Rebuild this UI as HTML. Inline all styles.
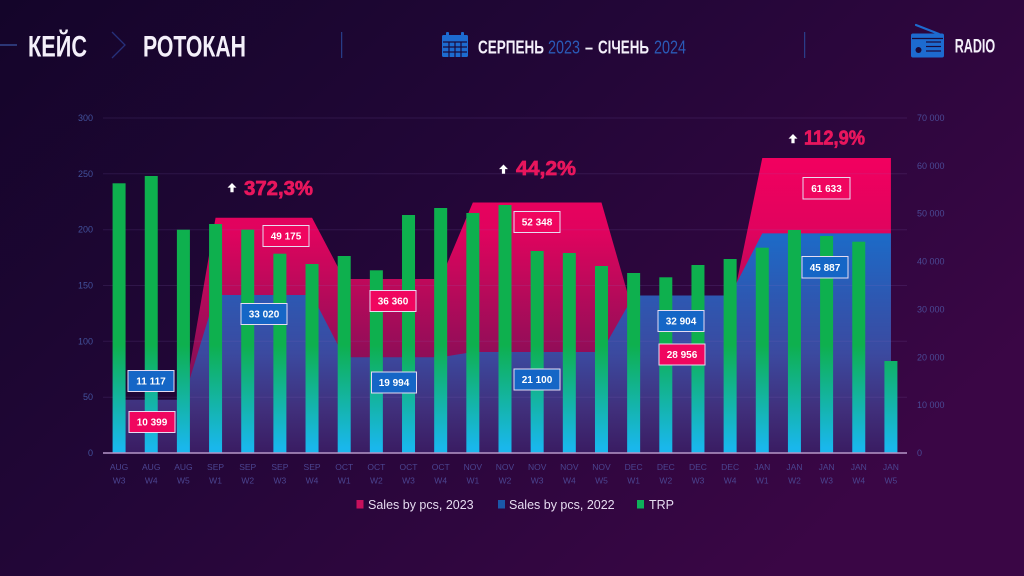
<!DOCTYPE html>
<html><head><meta charset="utf-8"><style>
html,body{margin:0;padding:0;width:1024px;height:576px;overflow:hidden;background:#1c0634;}
svg{display:block;}
</style></head><body>
<svg width="1024" height="576" viewBox="0 0 1024 576" xmlns="http://www.w3.org/2000/svg" font-family="'Liberation Sans', 'Noto Sans CJK SC', sans-serif">
<defs>
  <linearGradient id="bg" x1="0" y1="0" x2="1" y2="0.6">
    <stop offset="0" stop-color="#14052a"/>
    <stop offset="0.45" stop-color="#220637"/>
    <stop offset="1" stop-color="#3a0645"/>
  </linearGradient>
  <linearGradient id="pinkG" gradientUnits="userSpaceOnUse" x1="0" y1="158" x2="0" y2="453">
    <stop offset="0" stop-color="#f2005f"/>
    <stop offset="0.25" stop-color="#e0035e"/>
    <stop offset="0.45" stop-color="#b80a5a"/>
    <stop offset="0.7" stop-color="#8a0e58"/>
    <stop offset="1" stop-color="#4a1060"/>
  </linearGradient>
  <linearGradient id="blueG" gradientUnits="userSpaceOnUse" x1="0" y1="230" x2="0" y2="453">
    <stop offset="0" stop-color="#1b6cc9"/>
    <stop offset="0.3" stop-color="#2d58b2"/>
    <stop offset="0.55" stop-color="#3b4aa0"/>
    <stop offset="0.8" stop-color="#40307c"/>
    <stop offset="1" stop-color="#3a1c62"/>
  </linearGradient>
  <linearGradient id="barG" gradientUnits="userSpaceOnUse" x1="0" y1="345" x2="0" y2="448">
    <stop offset="0" stop-color="#0eb04e"/>
    <stop offset="1" stop-color="#19b7ec"/>
  </linearGradient>
</defs>

<rect x="0" y="0" width="1024" height="576" fill="url(#bg)"/>

<!-- Header -->
<line x1="0" y1="45" x2="17" y2="45" stroke="#34488f" stroke-width="1.5"/>
<text x="28" y="56.7" font-size="30" font-weight="bold" fill="#f4f0fa" textLength="59" lengthAdjust="spacingAndGlyphs">КЕЙС</text>
<polyline points="112,32 125,45 112,58" fill="none" stroke="#26307a" stroke-width="1.3"/>
<text x="143" y="56.7" font-size="30" font-weight="bold" fill="#f4f0fa" textLength="103" lengthAdjust="spacingAndGlyphs">РОТОКАН</text>
<line x1="341.7" y1="32" x2="341.7" y2="58" stroke="#2a4a9c" stroke-width="1"/>

<!-- calendar icon -->
<g fill="#1d6bd0">
  <rect x="442" y="35" width="26" height="22" rx="1.5"/>
  <rect x="446" y="32" width="3" height="5" rx="1"/>
  <rect x="461" y="32" width="3" height="5" rx="1"/>
</g>
<g stroke="#1b0a3a" stroke-width="1.2">
  <line x1="443" y1="42" x2="467" y2="42"/>
  <line x1="443" y1="47" x2="467" y2="47"/>
  <line x1="443" y1="52" x2="467" y2="52"/>
  <line x1="449" y1="42" x2="449" y2="57"/>
  <line x1="455" y1="42" x2="455" y2="57"/>
  <line x1="461" y1="42" x2="461" y2="57"/>
</g>
<text x="478" y="53.3" font-size="18.5" font-weight="bold" fill="#f4f0fa" textLength="66" lengthAdjust="spacingAndGlyphs">СЕРПЕНЬ</text>
<text x="548" y="53.3" font-size="18.5" fill="#2a5ab6" textLength="32" lengthAdjust="spacingAndGlyphs">2023</text>
<text x="585" y="53.3" font-size="18.5" font-weight="bold" fill="#f4f0fa" textLength="8" lengthAdjust="spacingAndGlyphs">–</text>
<text x="598" y="53.3" font-size="18.5" font-weight="bold" fill="#f4f0fa" textLength="51" lengthAdjust="spacingAndGlyphs">СІЧЕНЬ</text>
<text x="654" y="53.3" font-size="18.5" fill="#2a5ab6" textLength="32" lengthAdjust="spacingAndGlyphs">2024</text>
<line x1="804.7" y1="32" x2="804.7" y2="58" stroke="#2a4a9c" stroke-width="1"/>

<!-- radio icon -->
<line x1="916" y1="25" x2="939" y2="34" stroke="#1d6bd0" stroke-width="2.2" stroke-linecap="round"/>
<rect x="911" y="33.5" width="33" height="24" rx="2" fill="#1d6bd0"/>
<circle cx="918.5" cy="50" r="3" fill="#1b0a3a"/>
<g stroke="#1b0a3a" stroke-width="1.2">
  <line x1="926" y1="42" x2="941" y2="42"/>
  <line x1="926" y1="46.5" x2="941" y2="46.5"/>
  <line x1="926" y1="51" x2="941" y2="51"/>
  <line x1="912" y1="38.5" x2="943" y2="38.5"/>
</g>
<text x="954.7" y="52.3" font-size="19.5" font-weight="bold" fill="#f4f0fa" textLength="40.5" lengthAdjust="spacingAndGlyphs">RADIO</text>

<!-- Areas -->
<path d="M119.08,453 L119.08,403.2 L183.4,403.2 L215.56,217.7 L312.04,217.7 L344.2,279 L440.68,279 L472.84,202.5 L601.48,202.5 L633.64,314.4 L730.12,314.4 L762.28,158 L890.92,158 L890.92,453 Z" fill="url(#pinkG)"/>
<path d="M119.08,453 L119.08,399.8 L183.4,399.8 L215.56,295 L312.04,295 L344.2,357.3 L440.68,357.3 L472.84,352 L601.48,352 L633.64,295.5 L730.12,295.5 L762.28,233.4 L890.92,233.4 L890.92,453 Z" fill="url(#blueG)"/>

<!-- gridlines -->
<g stroke="#8a6ac0" stroke-opacity="0.16" stroke-width="1">
  <line x1="103" y1="118" x2="907" y2="118"/>
  <line x1="103" y1="173.8" x2="907" y2="173.8"/>
  <line x1="103" y1="229.7" x2="907" y2="229.7"/>
  <line x1="103" y1="285.5" x2="907" y2="285.5"/>
  <line x1="103" y1="341.3" x2="907" y2="341.3"/>
  <line x1="103" y1="397.2" x2="907" y2="397.2"/>
</g>

<!-- bars -->
<g fill="url(#barG)">
  <rect x="112.58" y="183.3" width="13" height="269.7"/>
  <rect x="144.74" y="176" width="13" height="277"/>
  <rect x="176.9" y="229.7" width="13" height="223.3"/>
  <rect x="209.06" y="224" width="13" height="229"/>
  <rect x="241.22" y="229.7" width="13" height="223.3"/>
  <rect x="273.38" y="253.7" width="13" height="199.3"/>
  <rect x="305.54" y="264" width="13" height="189"/>
  <rect x="337.7" y="256" width="13" height="197"/>
  <rect x="369.86" y="270.3" width="13" height="182.7"/>
  <rect x="402.02" y="215" width="13" height="238"/>
  <rect x="434.18" y="208" width="13" height="245"/>
  <rect x="466.34" y="213" width="13" height="240"/>
  <rect x="498.5" y="205" width="13" height="248"/>
  <rect x="530.66" y="251" width="13" height="202"/>
  <rect x="562.82" y="253" width="13" height="200"/>
  <rect x="594.98" y="266" width="13" height="187"/>
  <rect x="627.14" y="273" width="13" height="180"/>
  <rect x="659.3" y="277.3" width="13" height="175.7"/>
  <rect x="691.46" y="265" width="13" height="188"/>
  <rect x="723.62" y="259" width="13" height="194"/>
  <rect x="755.78" y="247.7" width="13" height="205.3"/>
  <rect x="787.94" y="230" width="13" height="223"/>
  <rect x="820.1" y="236" width="13" height="217"/>
  <rect x="852.26" y="241.7" width="13" height="211.3"/>
  <rect x="884.42" y="361" width="13" height="92"/>
</g>

<!-- axis line -->
<line x1="103" y1="453" x2="907" y2="453" stroke="#b596c8" stroke-width="1.5"/>

<!-- left ticks -->
<g font-size="9" fill="#42529c" text-anchor="end">
  <text x="93" y="121">300</text>
  <text x="93" y="176.8">250</text>
  <text x="93" y="232.7">200</text>
  <text x="93" y="288.5">150</text>
  <text x="93" y="344.3">100</text>
  <text x="93" y="400.2">50</text>
  <text x="93" y="456">0</text>
</g>
<!-- right ticks -->
<g font-size="9" fill="#4a4a95">
  <text x="917" y="121">70 000</text>
  <text x="917" y="168.9">60 000</text>
  <text x="917" y="216.7">50 000</text>
  <text x="917" y="264.6">40 000</text>
  <text x="917" y="312.4">30 000</text>
  <text x="917" y="360.3">20 000</text>
  <text x="917" y="408.1">10 000</text>
  <text x="917" y="456">0</text>
</g>

<!-- x labels -->
<g font-size="8.5" fill="#4b4590" text-anchor="middle">
  <text x="119.08" y="470">AUG</text><text x="119.08" y="483.5">W3</text>
  <text x="151.24" y="470">AUG</text><text x="151.24" y="483.5">W4</text>
  <text x="183.4" y="470">AUG</text><text x="183.4" y="483.5">W5</text>
  <text x="215.56" y="470">SEP</text><text x="215.56" y="483.5">W1</text>
  <text x="247.72" y="470">SEP</text><text x="247.72" y="483.5">W2</text>
  <text x="279.88" y="470">SEP</text><text x="279.88" y="483.5">W3</text>
  <text x="312.04" y="470">SEP</text><text x="312.04" y="483.5">W4</text>
  <text x="344.2" y="470">OCT</text><text x="344.2" y="483.5">W1</text>
  <text x="376.36" y="470">OCT</text><text x="376.36" y="483.5">W2</text>
  <text x="408.52" y="470">OCT</text><text x="408.52" y="483.5">W3</text>
  <text x="440.68" y="470">OCT</text><text x="440.68" y="483.5">W4</text>
  <text x="472.84" y="470">NOV</text><text x="472.84" y="483.5">W1</text>
  <text x="505" y="470">NOV</text><text x="505" y="483.5">W2</text>
  <text x="537.16" y="470">NOV</text><text x="537.16" y="483.5">W3</text>
  <text x="569.32" y="470">NOV</text><text x="569.32" y="483.5">W4</text>
  <text x="601.48" y="470">NOV</text><text x="601.48" y="483.5">W5</text>
  <text x="633.64" y="470">DEC</text><text x="633.64" y="483.5">W1</text>
  <text x="665.8" y="470">DEC</text><text x="665.8" y="483.5">W2</text>
  <text x="697.96" y="470">DEC</text><text x="697.96" y="483.5">W3</text>
  <text x="730.12" y="470">DEC</text><text x="730.12" y="483.5">W4</text>
  <text x="762.28" y="470">JAN</text><text x="762.28" y="483.5">W1</text>
  <text x="794.44" y="470">JAN</text><text x="794.44" y="483.5">W2</text>
  <text x="826.6" y="470">JAN</text><text x="826.6" y="483.5">W3</text>
  <text x="858.76" y="470">JAN</text><text x="858.76" y="483.5">W4</text>
  <text x="890.92" y="470">JAN</text><text x="890.92" y="483.5">W5</text>
</g>

<!-- data labels -->
<g stroke="#e6dcf2" stroke-width="1">
  <rect x="129" y="411.5" width="46" height="21" fill="#f0065f"/>
  <rect x="128" y="370.5" width="46" height="21" fill="#1566c6"/>
  <rect x="241" y="303.5" width="46" height="21" fill="#1566c6"/>
  <rect x="263" y="225.5" width="46" height="21" fill="#f0065f"/>
  <rect x="370" y="290.5" width="46" height="21" fill="#f0065f"/>
  <rect x="371.5" y="372" width="45" height="21" fill="#1566c6"/>
  <rect x="514" y="211.5" width="46" height="21" fill="#f0065f"/>
  <rect x="514" y="369" width="46" height="21" fill="#1566c6"/>
  <rect x="658" y="310.5" width="46" height="21" fill="#1566c6"/>
  <rect x="659" y="344" width="46" height="21" fill="#f0065f"/>
  <rect x="803" y="177.5" width="47" height="21.5" fill="#f0065f"/>
  <rect x="802" y="256.5" width="46" height="21.5" fill="#1566c6"/>
</g>
<g font-size="10" font-weight="bold" fill="#ffffff" text-anchor="middle">
  <text x="152" y="425.5">10 399</text>
  <text x="151" y="384.5">11 117</text>
  <text x="264" y="317.5">33 020</text>
  <text x="286" y="239.5">49 175</text>
  <text x="393" y="304.5">36 360</text>
  <text x="394" y="386">19 994</text>
  <text x="537" y="225.5">52 348</text>
  <text x="537" y="383">21 100</text>
  <text x="681" y="324.5">32 904</text>
  <text x="682" y="358">28 956</text>
  <text x="826.5" y="191.8">61 633</text>
  <text x="825" y="270.8">45 887</text>
</g>

<!-- percent annotations -->
<g fill="#ffffff">
  <path transform="translate(232,183)" d="M0,0 L4.5,4.6 L1.6,4.6 L1.6,9.2 L-1.6,9.2 L-1.6,4.6 L-4.5,4.6 Z"/>
  <path transform="translate(503.5,164.5)" d="M0,0 L4.5,4.6 L1.6,4.6 L1.6,9.2 L-1.6,9.2 L-1.6,4.6 L-4.5,4.6 Z"/>
  <path transform="translate(793,134)" d="M0,0 L4.5,4.6 L1.6,4.6 L1.6,9.2 L-1.6,9.2 L-1.6,4.6 L-4.5,4.6 Z"/>
</g>
<g font-size="20" font-weight="bold" fill="#e8165d" stroke="#e8165d" stroke-width="0.7">
  <text x="244" y="195" textLength="69" lengthAdjust="spacingAndGlyphs">372,3%</text>
  <text x="516" y="175" textLength="60" lengthAdjust="spacingAndGlyphs">44,2%</text>
  <text x="804" y="144.3" textLength="61" lengthAdjust="spacingAndGlyphs">112,9%</text>
</g>

<!-- legend -->
<rect x="356.5" y="500" width="7" height="8.5" fill="#c8105c"/>
<text x="368" y="509" font-size="12.5" fill="#e6dcf0">Sales by pcs, 2023</text>
<rect x="498" y="500" width="7" height="8.5" fill="#1b58a8"/>
<text x="509" y="509" font-size="12.5" fill="#e6dcf0">Sales by pcs, 2022</text>
<rect x="637" y="500" width="7" height="8.5" fill="#0eb05a"/>
<text x="649" y="509" font-size="12.5" fill="#e6dcf0">TRP</text>
</svg>
</body></html>
